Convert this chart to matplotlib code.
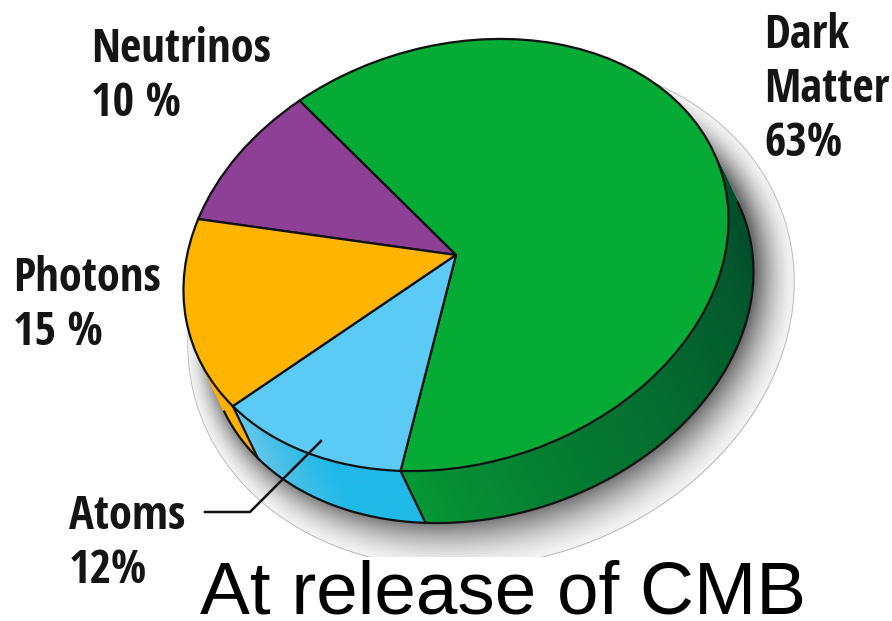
import numpy as np
import matplotlib
matplotlib.use("Agg")
import matplotlib.pyplot as plt
from matplotlib.collections import PolyCollection
from matplotlib.patches import Ellipse, Rectangle
from matplotlib.transforms import Affine2D

#Chart data
labels=["Dark Matter","Neutrinos","Photons","Atoms"]
values=[63,10,15,12]
top_colors=["#05AB35","#8E3F96","#FFB400","#5BCBF5"]
texts=["Dark\nMatter\n63%","Neutrinos\n10 %","Photons\n15 %","Atoms\n12%"]
caption="At release of CMB"

narrow=["Open Sans Condensed","Fira Sans Condensed","Liberation Sans"]

#Ellipse geometry, in pixels with y going up
H=621
cx,cy=456,H-255
a,b,tilt=278,209,17.4
dx,dy=25,-52
start=-115
base=Affine2D().scale(a,b).rotate_deg(tilt).translate(cx,cy)

def rim(t):
  p=np.column_stack([np.cos(np.radians(t)),np.sin(np.radians(t))])
  return base.transform(p)

def mix(c1,c2,f):
  c1=np.array(matplotlib.colors.to_rgb(c1)); c2=np.array(matplotlib.colors.to_rgb(c2))
  return tuple(c1+(c2-c1)*f)

fig=plt.figure(figsize=(8.92,6.21),dpi=100)
ax=fig.add_axes([0,0,1,1])

#Soft shadow, outer to inner
n=50
for i in range(n):
  f=i/(n-1)
  ell=Ellipse((cx+35-7*f,cy-58+8*f),2*(a+30-30*f),2*(b+40-40*f),angle=tilt,
              facecolor=str(0.95-0.52*f**1.6),edgecolor="#BDBDBD" if i==0 else "none",lw=0.8,zorder=1)
  ax.add_patch(ell)
#The caption box hides the shadow at the bottom
ax.add_patch(Rectangle((150,0),742,H-557,facecolor="white",edgecolor="none",zorder=2))

#Side of the pie, as thin strips
edges=start+np.cumsum([0]+[v*3.6 for v in values])
strips=[]; cols=[]
for k,(t0,t1) in enumerate(zip(edges[:-1],edges[1:])):
  ts=np.linspace(t0,t1,int(t1-t0)*2+2)
  top=rim(ts)
  for i in range(len(ts)-1):
    strips.append([top[i],top[i+1],top[i+1]+[dx,dy],top[i]+[dx,dy]])
    t=ts[i]
    if k==0:
      f=np.clip((t-start)/(-10-start),0,1)
      cols.append(mix("#069A35","#004F2B",f**0.8))
    elif k==2:
      cols.append("#FFB000")
    elif k==3:
      f=(t-edges[3])/(edges[4]-edges[3])
      cols.append(mix("#66C9EE","#1FBBEA",min(f*1.6,1)))
    else:
      cols.append("#6A2C72")
ax.add_collection(PolyCollection(strips,facecolors=cols,edgecolors=cols,linewidths=0.4,zorder=3))

#Outline of the side
ts=np.linspace(-173.7,6.3,300)
ax.plot(*(rim(ts)+[dx,dy]).T,color="#111111",lw=1.6,zorder=4)
for t in [edges[0],edges[3]]:
  p=rim(np.array([t]))[0]
  ax.plot([p[0],p[0]+dx],[p[1],p[1]+dy],color="#111111",lw=1.6,zorder=4)

#Top face
wedges,_=ax.pie(values,colors=top_colors,startangle=start,counterclock=True,radius=1,
                wedgeprops=dict(edgecolor="#111111",linewidth=1.6))
for w in wedges:
  w.set_transform(base+ax.transData)
  w.set_zorder(5)

ax.set_aspect("auto")
ax.set_xlim(0,892)
ax.set_ylim(0,H)
ax.axis("off")

#Leader line for Atoms
ax.plot([205,250,321],[H-512,H-512,H-441],color="#111111",lw=1.8,zorder=6)

#Labels
spots=[(764,H-12),(91,H-26),(13,H-255),(69,H-493)]
for s,(x,y) in zip(texts,spots):
  ax.text(x,y,s,family=narrow,weight="bold",fontsize=33.5,color="#151515",va="top",ha="left",
          linespacing=1.19,zorder=7)
ax.text(200,H-613.5,caption,family="Liberation Sans",fontsize=53.8,color="black",va="baseline",ha="left",zorder=7)

fig.savefig("out.png",dpi=100)
